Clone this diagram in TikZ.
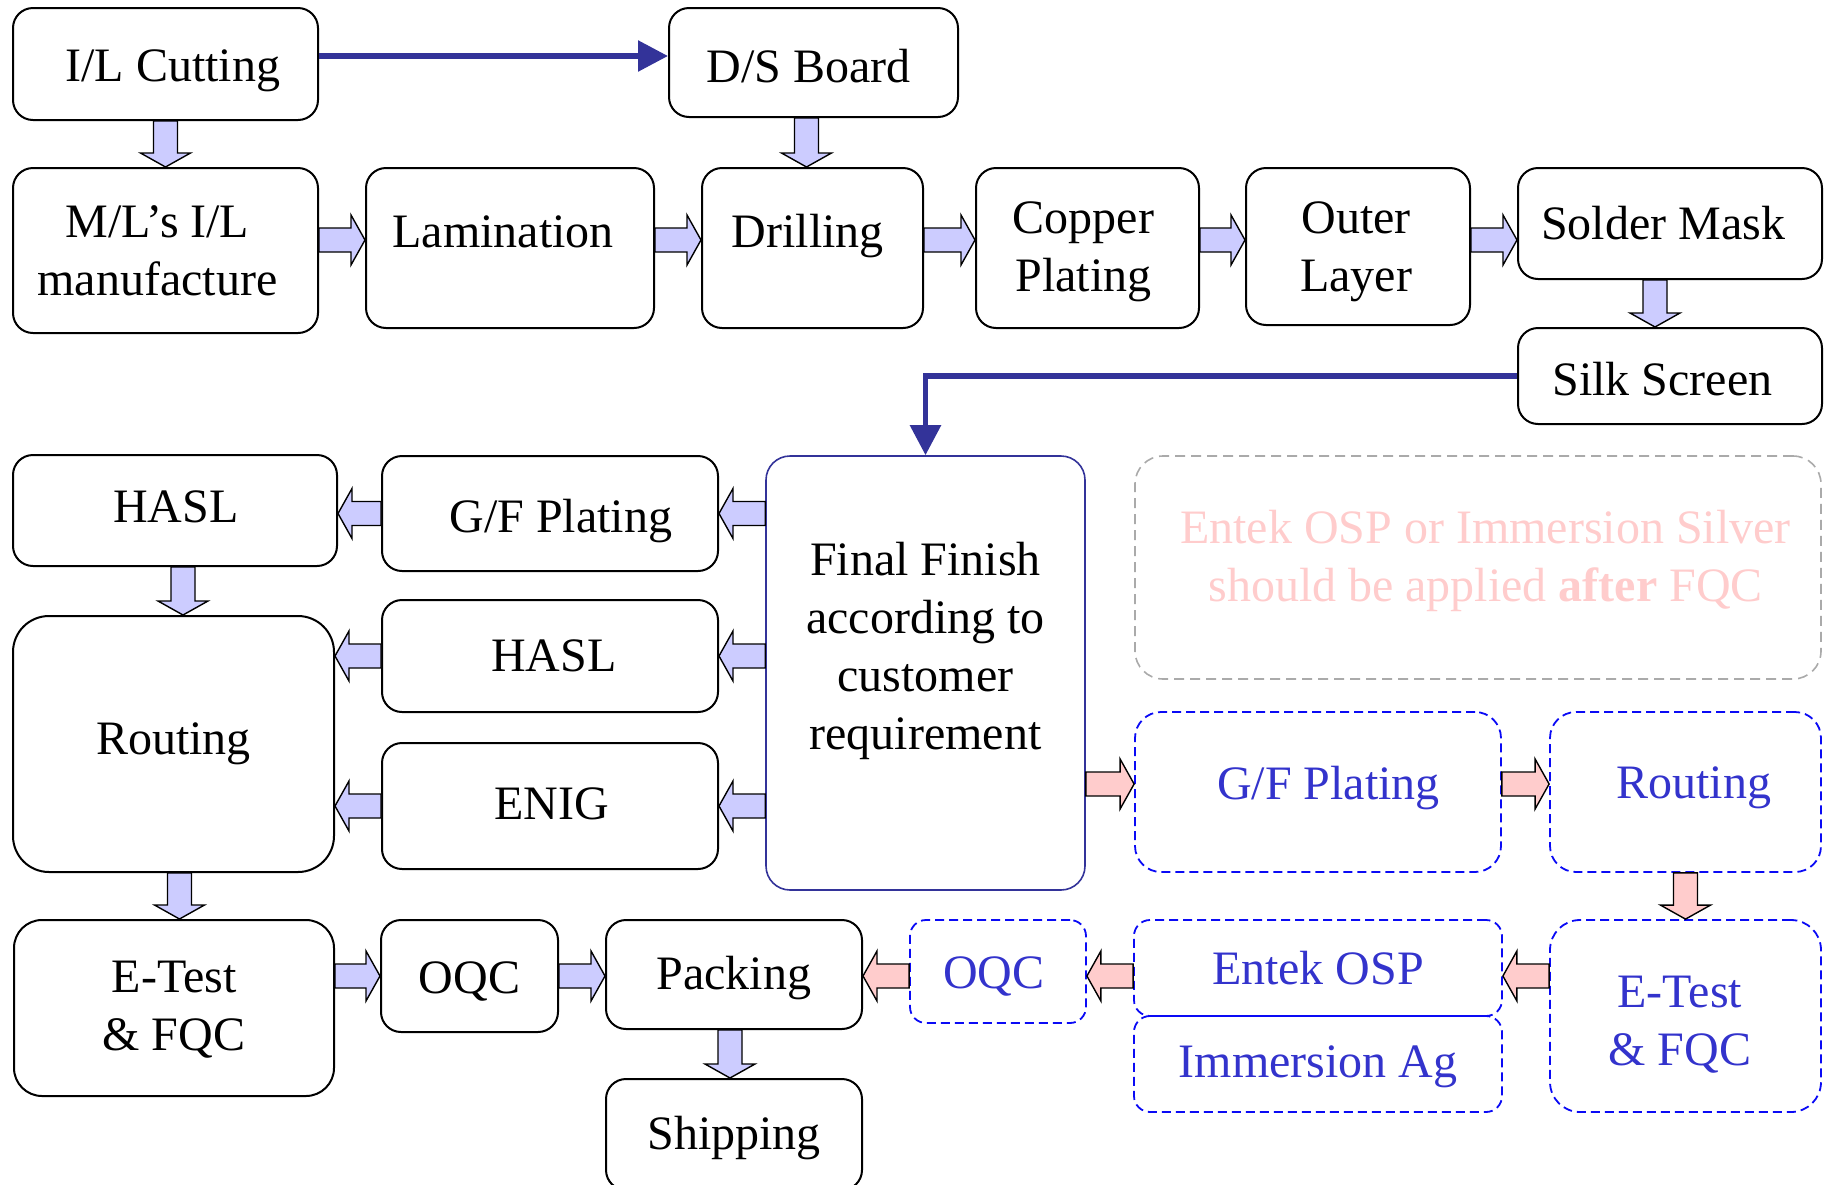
\documentclass[tikz,border=0pt]{standalone}
\usepackage{fontspec}
\setmainfont{Liberation Serif}
\usetikzlibrary{arrows.meta,calc}

\definecolor{flowblue}{HTML}{333399}
\definecolor{arrowfill}{HTML}{CCCCFF}
\definecolor{pinkfill}{HTML}{FFCCCC}
\definecolor{altblue}{HTML}{0A0AF5}
\definecolor{alttext}{HTML}{3333CC}
\definecolor{notegray}{HTML}{AAAAAA}
\definecolor{notetext}{HTML}{FFCCCC}

\tikzset{
  procbox/.style={draw, line width=1pt, rounded corners=10pt, align=center, inner sep=1pt},
  finbox/.style={procbox, draw=flowblue, line width=0.8pt, rounded corners=12pt},
  altbox/.style={draw=altblue, line width=0.9pt, dash pattern=on 4.5pt off 2.5pt,
    rounded corners=#1, text=alttext, align=center, inner sep=1pt},
  altbox/.default=8pt,
  notebox/.style={draw=notegray, line width=0.8pt, dash pattern=on 5pt off 3pt,
    rounded corners=14pt, text=notetext, align=center},
  barrow/.style={draw=black, line width=0.7pt, fill=arrowfill, line join=miter},
  parrow/.style={barrow, fill=pinkfill},
  flowline/.style={draw=flowblue, line width=2.8pt, -{Triangle[length=15pt,width=15pt]}},
}

% fat arrow from #2 to #3, style #1
\newcommand{\blockarrow}[3]{%
  \coordinate (bah) at ($#3!7pt!#2$);
  \filldraw[#1] ($#2!6pt!90:#3$) -- ($(bah)!6pt!-90:#2$) -- ($(bah)!12.5pt!-90:#2$)
    -- #3 -- ($(bah)!12.5pt!90:#2$) -- ($(bah)!6pt!90:#2$) -- ($#2!6pt!-90:#3$) -- cycle;}
% move a line of text inside its box: #1 twice the x offset, #2 raise
\newcommand{\nudge}[3]{\raisebox{#2}[\height][\depth]{\hspace*{#1}#3}}

\begin{document}
\begin{tikzpicture}[x=0.5pt, y=-0.5pt, font=\fontsize{24}{29}\selectfont]
\path[use as bounding box, clip] (0,0) rectangle (1832,1184);

% top rows
\node[procbox, minimum width=152.5pt, minimum height=56pt] (ilc) at (165.5,64) {\nudge{7.5pt}{-3.5pt}{I/L Cutting}};
\node[procbox, minimum width=144.5pt, minimum height=54.5pt] (dsb) at (813.5,62.5) {\nudge{-4.7pt}{-2pt}{D/S Board}};
\node[procbox, minimum width=152.5pt, minimum height=82.5pt] (ml) at (165.5,250.5) {\nudge{-8pt}{0pt}{M/L’s I/L}\\\nudge{-8pt}{0pt}{manufacture}};
\node[procbox, minimum width=144pt, minimum height=80pt] (lam) at (510,248) {\nudge{-7pt}{8pt}{Lamination}};
\node[procbox, minimum width=110.5pt, minimum height=80pt] (dri) at (812.5,248) {\nudge{-4.7pt}{6pt}{Drilling}};
\node[procbox, minimum width=111.5pt, minimum height=80pt] (cop) at (1087.5,248) {\nudge{-4pt}{-2pt}{Copper}\\\nudge{-4pt}{-2pt}{Plating}};
\node[procbox, minimum width=112pt, minimum height=78.5pt] (out) at (1358,246.5) {\nudge{-2pt}{-2.5pt}{Outer}\\\nudge{-2pt}{-2.5pt}{Layer}};
\node[procbox, minimum width=152pt, minimum height=55.5pt] (sol) at (1670,223.5) {\nudge{-7pt}{0pt}{Solder Mask}};
\node[procbox, minimum width=152pt, minimum height=48pt] (sil) at (1670,376) {\nudge{-7.5pt}{-1.5pt}{Silk Screen}};

% finish options
\node[procbox, minimum width=162pt, minimum height=55.5pt] (hasla) at (175,510.5) {\nudge{1pt}{2pt}{HASL}};
\node[procbox, minimum width=168pt, minimum height=57.5pt] (gfa) at (550,513.5) {\nudge{11pt}{-4pt}{G/F Plating}};
\node[finbox, minimum width=159.5pt, minimum height=217pt,
  label={[align=center, yshift=11pt]center:Final Finish\\according to\\customer\\requirement}] (fin) at (925.5,673) {};
\node[notebox, minimum width=343pt, minimum height=111.5pt] (note) at (1478,567.5)
  {\nudge{7.6pt}{3.2pt}{Entek OSP or Immersion Silver}\\\nudge{7.6pt}{3.2pt}{should be applied \textbf{after} FQC}};
\node[procbox, minimum width=168pt, minimum height=56pt] (haslb) at (550,656) {\nudge{4pt}{0pt}{HASL}};
\node[procbox, rounded corners=18pt, minimum width=160.5pt, minimum height=128pt] (rou) at (173.5,744) {Routing};
\node[procbox, minimum width=168pt, minimum height=63pt] (enig) at (550,806) {\nudge{1.5pt}{1pt}{ENIG}};
\node[altbox=13pt, minimum width=183pt, minimum height=80pt] (gfb) at (1318,792) {\nudge{10.6pt}{2pt}{G/F Plating}};
\node[altbox=13pt, minimum width=135.5pt, minimum height=80pt] (roub) at (1685.5,792) {\nudge{8.2pt}{2pt}{Routing}};

% bottom rows
\node[procbox, rounded corners=14pt, minimum width=160pt, minimum height=88pt] (etest) at (174,1008) {\nudge{0pt}{-1pt}{E-Test}\\\nudge{0pt}{-1pt}{\& FQC}};
\node[procbox, minimum width=88.5pt, minimum height=56pt] (oqc) at (469.5,976) {\nudge{0pt}{-2.5pt}{OQC}};
\node[procbox, minimum width=128pt, minimum height=54.5pt] (pack) at (734,974.5) {\nudge{0pt}{-2pt}{Packing}};
\node[procbox, minimum width=128pt, minimum height=55.5pt] (ship) at (734,1134.5) {\nudge{0pt}{-2pt}{Shipping}};
\node[altbox, minimum width=88pt, minimum height=51.5pt] (oqcb) at (998,971.5) {\nudge{-4pt}{-2.5pt}{OQC}};
\node[altbox, minimum width=184pt, minimum height=48pt] (ent) at (1318,968) {Entek OSP};
\node[altbox, minimum width=184pt, minimum height=48pt] (imm) at (1318,1064) {\nudge{0pt}{-1.5pt}{Immersion Ag}};
\node[altbox=15pt, minimum width=135.5pt, minimum height=96pt] (etb) at (1685.5,1016) {\nudge{-5.8pt}{-4.5pt}{E-Test}\\\nudge{-5.8pt}{-4.5pt}{\& FQC}};

\coordinate (row1) at (0,240);
\coordinate (rowb) at (0,784);
\coordinate (rowc) at (0,976);

% connectors
\draw[flowline] ([yshift=4pt]ilc.east) -- ([yshift=4pt]ilc.east -| dsb.west);
\draw[flowline] (sil.west) -| (fin.north);

\blockarrow{barrow}{(ilc.south)}{(ilc.south |- ml.north)}
\blockarrow{barrow}{([xshift=-3.5pt]dsb.south)}{([xshift=-3.5pt]dsb.south |- dri.north)}
\blockarrow{barrow}{(ml.east |- row1)}{(lam.west |- row1)}
\blockarrow{barrow}{(lam.east |- row1)}{(dri.west |- row1)}
\blockarrow{barrow}{(dri.east |- row1)}{(cop.west |- row1)}
\blockarrow{barrow}{(cop.east |- row1)}{(out.west |- row1)}
\blockarrow{barrow}{(out.east |- row1)}{(sol.west |- row1)}
\blockarrow{barrow}{([xshift=-7.5pt]sol.south)}{([xshift=-7.5pt]sol.south |- sil.north)}

\blockarrow{barrow}{(fin.west |- gfa.east)}{(gfa.east)}
\blockarrow{barrow}{(fin.west |- haslb.east)}{(haslb.east)}
\blockarrow{barrow}{(fin.west |- enig.east)}{(enig.east)}
\blockarrow{barrow}{(gfa.west)}{(gfa.west -| hasla.east)}
\blockarrow{barrow}{(haslb.west)}{(haslb.west -| rou.east)}
\blockarrow{barrow}{(enig.west)}{(enig.west -| rou.east)}
\blockarrow{barrow}{([xshift=4pt]hasla.south)}{([xshift=4pt]hasla.south |- rou.north)}
\blockarrow{barrow}{([xshift=3pt]rou.south)}{([xshift=3pt]rou.south |- etest.north)}
\blockarrow{barrow}{(etest.east |- rowc)}{(oqc.west |- rowc)}
\blockarrow{barrow}{(oqc.east |- rowc)}{(pack.west |- rowc)}
\blockarrow{barrow}{([xshift=-2pt]pack.south)}{([xshift=-2pt]pack.south |- ship.north)}

\blockarrow{parrow}{(fin.east |- rowb)}{(gfb.west |- rowb)}
\blockarrow{parrow}{(gfb.east |- rowb)}{(roub.west |- rowb)}
\blockarrow{parrow}{(roub.south)}{(roub.south |- etb.north)}
\blockarrow{parrow}{(etb.west |- rowc)}{(ent.east |- rowc)}
\blockarrow{parrow}{(ent.west |- rowc)}{(oqcb.east |- rowc)}
\blockarrow{parrow}{(oqcb.west |- rowc)}{(pack.east |- rowc)}
\end{tikzpicture}
\end{document}
